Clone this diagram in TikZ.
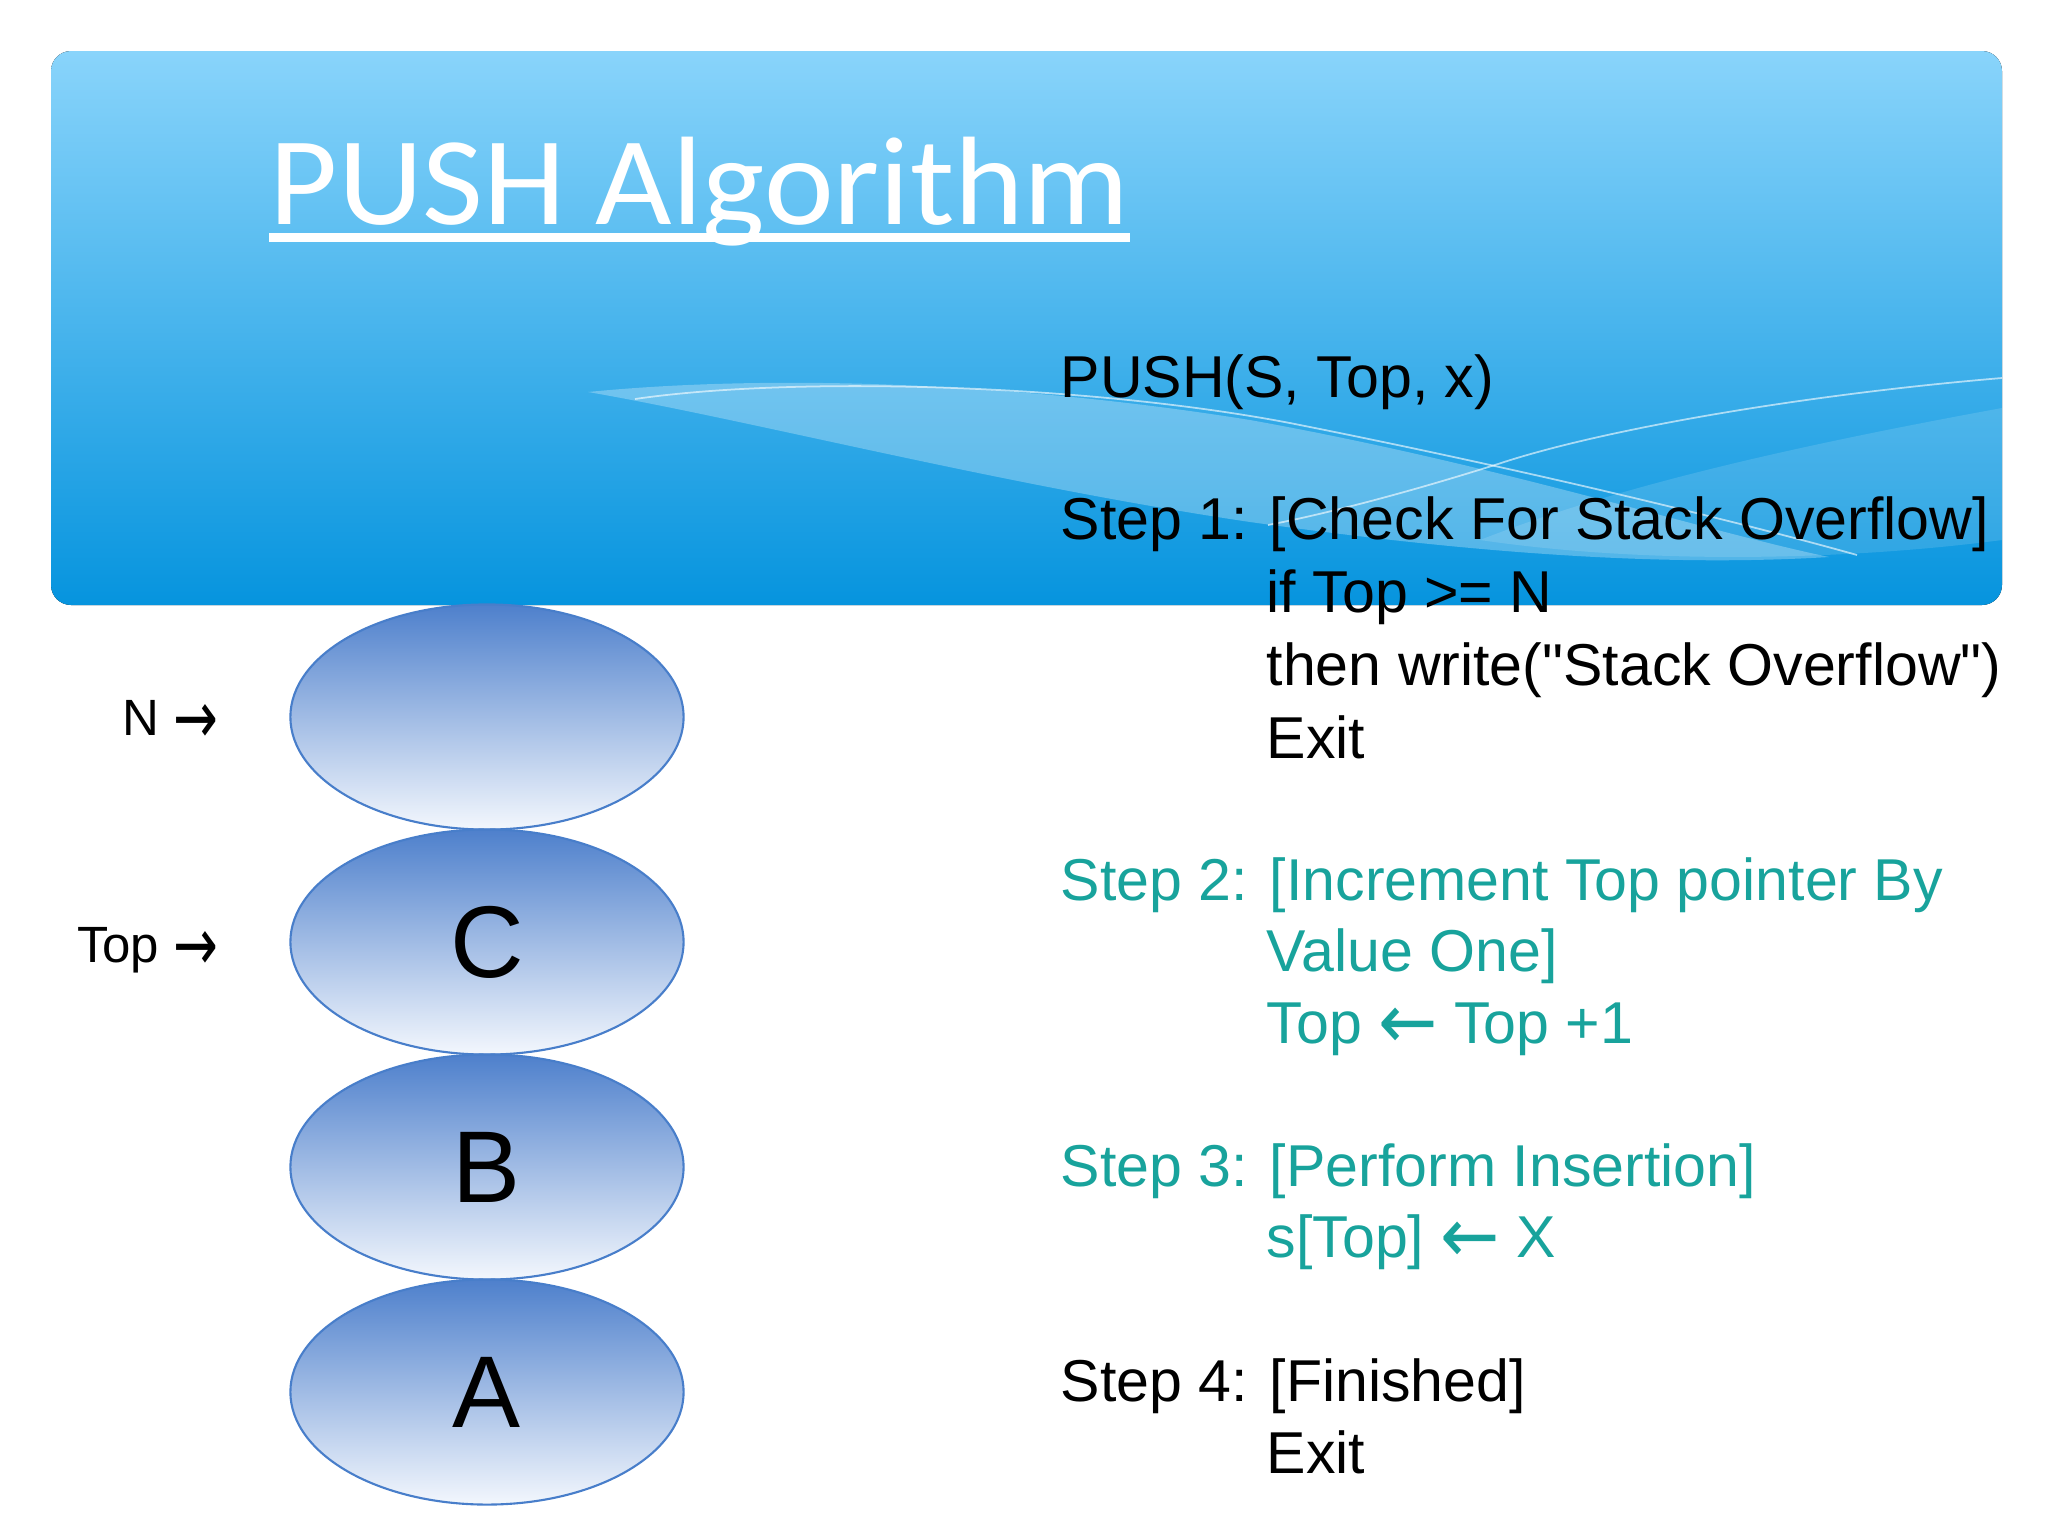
\documentclass[tikz,border=0pt]{standalone}
\usepackage{fontspec}
\usepackage{graphicx}
\setmainfont{Liberation Sans}[Ligatures=TeXOff]
\newfontfamily\titlefont{Carlito}[FakeStretch=1.05]
\newfontfamily\arrowfont{DejaVu Sans}
\usetikzlibrary{shapes.geometric}

\definecolor{banntop}{RGB}{137,212,251}
\definecolor{bannbot}{RGB}{6,148,222}
\definecolor{eltop}{RGB}{78,128,204}
\definecolor{elbot}{RGB}{243,247,253}
\definecolor{elline}{RGB}{72,126,202}
\definecolor{stepteal}{RGB}{24,163,156}

\newcommand{\larr}{{\arrowfont\raisebox{-0.1em}{\scalebox{1.2}[1.3]{←}}}}
\newcommand{\rarr}{{\arrowfont\raisebox{-0.16em}{\scalebox{1.05}[1.45]{→}}}}

\begin{document}
\begin{tikzpicture}[x=0.01cm,y=-0.01cm]
\tikzstyle{every node}=[inner sep=0pt]
\tikzstyle{stackel}=[ellipse, draw=elline, line width=0.6pt, top color=eltop, bottom color=elbot, minimum width=3.93cm, minimum height=2.25cm, font=\fontsize{29pt}{34pt}\selectfont]
\tikzstyle{ptr}=[anchor=base east, font=\fontsize{14.5pt}{17pt}\selectfont]
\tikzstyle{algline}=[anchor=base west, font=\fontsize{16.8pt}{20pt}\selectfont]
\tikzstyle{hiline}=[algline, text=stepteal]
\useasboundingbox (0,0) rectangle (2048,1536);
% banner
\fill[rounded corners=0.2cm, top color=banntop, bottom color=bannbot] (51,51) rectangle (2002,605);
\fill[white, fill opacity=0.28] (588,392) .. controls (760,375) and (1000,380) .. (1250,420) .. controls (1500,465) and (1700,530) .. (1829,557) .. controls (1650,568) and (1450,550) .. (1250,522) .. controls (1000,485) and (750,420) .. (588,392) -- cycle;
\fill[white, fill opacity=0.13] (2002,408) .. controls (1800,445) and (1620,485) .. (1480,540) .. controls (1650,565) and (1850,560) .. (2002,540) -- cycle;
\draw[white, draw opacity=0.6, line width=0.5pt] (635,399) .. controls (800,375) and (1100,385) .. (1300,425) .. controls (1550,475) and (1750,525) .. (1857,555);
\draw[white, draw opacity=0.6, line width=0.5pt] (2002,378) .. controls (1800,395) and (1600,430) .. (1498,464) .. controls (1400,495) and (1320,515) .. (1268,525);
\draw (269,224) node (title) [anchor=base west, text=white, font=\titlefont\fontsize{35.8pt}{40pt}\selectfont] {PUSH Algorithm};
\draw[white, line width=2.4pt] ([yshift=-0.135cm]title.base west) -- ([yshift=-0.135cm]title.base east);

% stack
\draw (487,717) node (elN) [stackel] {};
\draw (487,942) node (elC) [stackel] {C};
\draw (487,1167) node (elB) [stackel] {B};
\draw (487,1392) node (elA) [stackel] {A};
\draw (219,735) node (ptrN) [ptr] {N \rarr};
\draw (219,962) node (ptrTop) [ptr] {Top \rarr};

% algorithm
\draw (1060,397) node (push) [algline] {PUSH(S, Top, x)};
\draw (1060,539) node (st1) [algline] {Step 1: [Check For Stack Overflow]};
\draw (1266,612) node (st1a) [algline] {if Top >= N};
\draw (1266,685) node (st1b) [algline] {then write("Stack Overflow")};
\draw (1266,758) node (st1c) [algline] {Exit};
\draw (1060,900) node (st2) [hiline] {Step 2: [Increment Top pointer By};
\draw (1266,971) node (st2a) [hiline] {Value One]};
\draw (1266,1043) node (st2b) [hiline] {Top \larr{} Top +1};
\draw (1060,1186) node (st3) [hiline] {Step 3: [Perform Insertion]};
\draw (1266,1257) node (st3a) [hiline] {s[Top] \larr{} X};
\draw (1060,1401) node (st4) [algline] {Step 4: [Finished]};
\draw (1266,1473) node (st4a) [algline] {Exit};
\end{tikzpicture}
\end{document}
